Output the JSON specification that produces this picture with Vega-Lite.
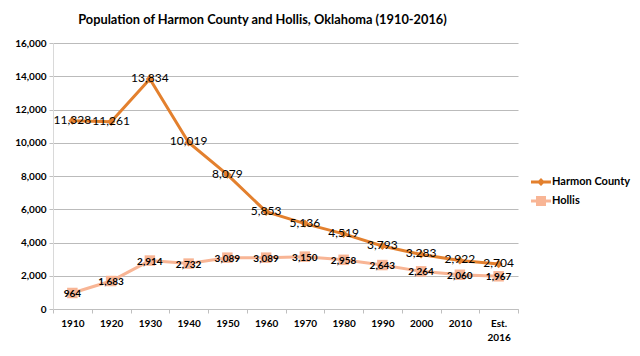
{
  "$schema": "https://vega.github.io/schema/vega-lite/v6.json",
  "autosize": "none",
  "width": 465,
  "height": 266,
  "padding": {"left": 53, "top": 43, "right": 122, "bottom": 47},
  "background": "white",
  "config": {"view": {"stroke": null}},
  "title": {
    "text": "Population of Harmon County and Hollis, Oklahoma (1910-2016)",
    "font": "Lato", "fontSize": 12.8, "fontWeight": "bold", "color": "#000000",
    "anchor": "middle", "dx": -23, "offset": 11
  },
  "data": {"values": [
    {"year": "1910", "series": "Harmon County", "pop": 11328},
    {"year": "1920", "series": "Harmon County", "pop": 11261},
    {"year": "1930", "series": "Harmon County", "pop": 13834},
    {"year": "1940", "series": "Harmon County", "pop": 10019},
    {"year": "1950", "series": "Harmon County", "pop": 8079},
    {"year": "1960", "series": "Harmon County", "pop": 5853},
    {"year": "1970", "series": "Harmon County", "pop": 5136},
    {"year": "1980", "series": "Harmon County", "pop": 4519},
    {"year": "1990", "series": "Harmon County", "pop": 3793},
    {"year": "2000", "series": "Harmon County", "pop": 3283},
    {"year": "2010", "series": "Harmon County", "pop": 2922},
    {"year": "Est. 2016", "series": "Harmon County", "pop": 2704},
    {"year": "1910", "series": "Hollis", "pop": 964},
    {"year": "1920", "series": "Hollis", "pop": 1683},
    {"year": "1930", "series": "Hollis", "pop": 2914},
    {"year": "1940", "series": "Hollis", "pop": 2732},
    {"year": "1950", "series": "Hollis", "pop": 3089},
    {"year": "1960", "series": "Hollis", "pop": 3089},
    {"year": "1970", "series": "Hollis", "pop": 3150},
    {"year": "1980", "series": "Hollis", "pop": 2958},
    {"year": "1990", "series": "Hollis", "pop": 2643},
    {"year": "2000", "series": "Hollis", "pop": 2264},
    {"year": "2010", "series": "Hollis", "pop": 2060},
    {"year": "Est. 2016", "series": "Hollis", "pop": 1967}
  ]},
  "encoding": {
    "x": {
      "field": "year", "type": "ordinal", "sort": null,
      "scale": {"type": "band", "paddingInner": 0, "paddingOuter": 0},
      "axis": {
        "title": null, "labelAngle": 0, "tickBand": "extent", "tickSize": 4,
        "labelExpr": "datum.value == 'Est. 2016' ? ['Est.', '2016'] : datum.label",
        "labelFont": "Lato", "labelFontSize": 10, "labelFontWeight": "bold", "labelColor": "#000000",
        "labelPadding": 5, "labelLineHeight": 14,
        "domainColor": "#BFBFBF", "tickColor": "#BFBFBF", "grid": false
      }
    },
    "y": {
      "field": "pop", "type": "quantitative",
      "scale": {"domain": [0, 16000]},
      "axis": {
        "title": null, "values": [0, 2000, 4000, 6000, 8000, 10000, 12000, 14000, 16000],
        "format": ",.0f", "labelFont": "Lato", "labelFontSize": 10, "labelFontWeight": "bold",
        "labelColor": "#000000", "tickSize": 4, "tickColor": "#BFBFBF", "domainColor": "#D9D9D9",
        "gridColor": "#BBBBBB", "labelPadding": 3
      }
    },
    "color": {
      "field": "series", "type": "nominal",
      "scale": {"domain": ["Harmon County", "Hollis"], "range": ["#E3802E", "#F8B595"]},
      "legend": {
        "orient": "none", "legendX": 478, "legendY": 129, "title": null,
        "labelFont": "Lato", "labelFontSize": 11, "labelFontWeight": "bold", "labelColor": "#000000",
        "symbolSize": 400, "rowPadding": 4, "labelOffset": 1,
        "encode": {
          "symbols": {
            "update": {
              "shape": {"signal": "datum.value === 'Harmon County' ? 'M-1,-0.15 L-0.25,-0.15 L0,-0.4 L0.25,-0.15 L1,-0.15 L1,0.15 L0.25,0.15 L0,0.4 L-0.25,0.15 L-1,0.15 Z' : 'M-1,-0.15 L-0.5,-0.15 L-0.5,-0.5 L0.5,-0.5 L0.5,-0.15 L1,-0.15 L1,0.15 L0.5,0.15 L0.5,0.5 L-0.5,0.5 L-0.5,0.15 L-1,0.15 Z'"},
              "size": {"value": 400},
              "fill": {"signal": "datum.value === 'Harmon County' ? '#E3802E' : '#F8B595'"},
              "fillOpacity": {"value": 1},
              "strokeWidth": {"value": 0},
              "opacity": {"value": 1}
            }
          }
        }
      }
    }
  },
  "layer": [
    {"mark": {"type": "line", "strokeWidth": 3}},
    {
      "transform": [{"filter": "datum.series === 'Harmon County'"}],
      "mark": {"type": "point", "filled": true, "opacity": 1, "shape": "diamond", "size": 70}
    },
    {
      "transform": [{"filter": "datum.series === 'Hollis'"}],
      "mark": {"type": "point", "filled": true, "opacity": 1, "shape": "square", "size": 110}
    },
    {
      "transform": [{"filter": "datum.series === 'Harmon County'"}],
      "mark": {"type": "text", "font": "Lato", "fontSize": 12, "baseline": "middle", "align": "center", "dy": -1},
      "encoding": {
        "text": {"field": "pop", "type": "quantitative", "format": ","},
        "color": {"value": "#000000"}
      }
    },
    {
      "transform": [{"filter": "datum.series === 'Hollis'"}],
      "mark": {"type": "text", "font": "Lato", "fontSize": 10, "fontWeight": "bold", "baseline": "middle", "align": "center", "dy": 1},
      "encoding": {
        "text": {"field": "pop", "type": "quantitative", "format": ","},
        "color": {"value": "#000000"}
      }
    }
  ]
}
